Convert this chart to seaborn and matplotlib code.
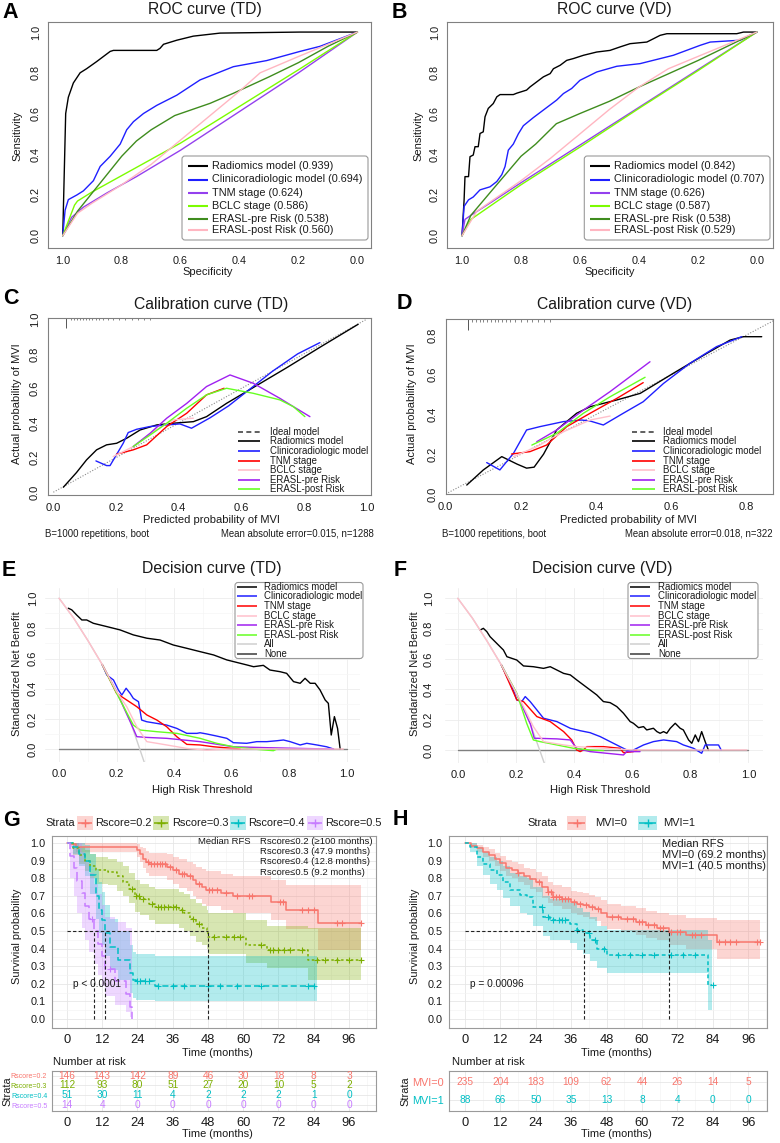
import numpy as np
import matplotlib
matplotlib.use("Agg")
import matplotlib.pyplot as plt
import seaborn as sns
from matplotlib.patches import Rectangle, FancyBboxPatch

sns.set_style("white")
plt.rcParams['font.family'] = ['Liberation Sans', 'DejaVu Sans']
plt.rcParams['axes.unicode_minus'] = False

# ------------------------------------------------------------------ DATA
model_names = ["Radiomics model", "Clinicoradiologic model", "TNM stage", "BCLC stage",
               "ERASL-pre Risk", "ERASL-post Risk"]
auc_td = [0.939, 0.694, 0.624, 0.586, 0.538, 0.560]
auc_vd = [0.842, 0.707, 0.626, 0.587, 0.538, 0.529]

# ROC, training dataset (specificity, sensitivity)
roc_td_rad_spec = [1.0, 0.99, 0.981, 0.964, 0.941, 0.919, 0.885, 0.862, 0.839, 0.828, 0.681, 0.67, 0.658, 0.613, 0.557, 0.466, 0.195, 0.0]
roc_td_rad_sens = [0.0, 0.60, 0.68, 0.75, 0.80, 0.82, 0.855, 0.88, 0.905, 0.91, 0.91, 0.92, 0.94, 0.96, 0.98, 0.995, 1.0, 1.0]
roc_td_cli_spec = [1.0, 0.992, 0.981, 0.952, 0.93, 0.896, 0.873, 0.839, 0.805, 0.783, 0.76, 0.726, 0.681, 0.613, 0.534, 0.421, 0.308, 0.195, 0.127, 0.0]
roc_td_cli_sens = [0.0, 0.125, 0.177, 0.2, 0.22, 0.27, 0.34, 0.39, 0.45, 0.52, 0.56, 0.6, 0.64, 0.69, 0.765, 0.83, 0.86, 0.905, 0.93, 1.0]
roc_td_tnm_spec = [1.0, 0.97, 0.93, 0.85, 0.75, 0.6, 0.4, 0.2, 0.0]
roc_td_tnm_sens = [0.0, 0.09, 0.14, 0.21, 0.29, 0.42, 0.61, 0.80, 1.0]
roc_td_bclc_spec = [1.0, 0.96, 0.95, 0.9, 0.8, 0.6, 0.4, 0.2, 0.0]
roc_td_bclc_sens = [0.0, 0.15, 0.17, 0.215, 0.295, 0.455, 0.635, 0.815, 1.0]
roc_td_pre_spec = [1.0, 0.95, 0.9, 0.85, 0.8, 0.75, 0.7, 0.62, 0.5, 0.42, 0.3, 0.2, 0.1, 0.0]
roc_td_pre_sens = [0.0, 0.12, 0.21, 0.30, 0.39, 0.465, 0.52, 0.59, 0.65, 0.70, 0.78, 0.85, 0.93, 1.0]
roc_td_post_spec = [1.0, 0.95, 0.9, 0.8, 0.7, 0.6, 0.5, 0.4, 0.33, 0.2, 0.1, 0.0]
roc_td_post_sens = [0.0, 0.11, 0.16, 0.25, 0.35, 0.47, 0.59, 0.71, 0.80, 0.88, 0.94, 1.0]

# ROC, validation dataset
roc_vd_rad_spec = [1.0, 0.993, 0.99, 0.978, 0.973, 0.962, 0.956, 0.945, 0.939, 0.928, 0.922, 0.911, 0.894, 0.882, 0.871, 0.826, 0.814, 0.781, 0.769, 0.747, 0.724, 0.701, 0.69, 0.667, 0.645, 0.622, 0.588, 0.543, 0.498, 0.464, 0.43, 0.373, 0.351, 0.328, 0.305, 0.068, 0.045, 0.0]
roc_vd_rad_sens = [0.0, 0.176, 0.29, 0.29, 0.388, 0.396, 0.437, 0.437, 0.502, 0.51, 0.584, 0.625, 0.649, 0.682, 0.693, 0.693, 0.70, 0.715, 0.731, 0.755, 0.78, 0.796, 0.82, 0.837, 0.861, 0.87, 0.886, 0.902, 0.91, 0.927, 0.943, 0.951, 0.967, 0.984, 0.992, 0.992, 1.0, 1.0]
roc_vd_cli_spec = [1.0, 0.993, 0.978, 0.962, 0.939, 0.905, 0.882, 0.865, 0.854, 0.843, 0.826, 0.809, 0.792, 0.758, 0.724, 0.679, 0.656, 0.628, 0.6, 0.543, 0.475, 0.396, 0.283, 0.192, 0.158, 0.057, 0.0]
roc_vd_cli_sens = [0.0, 0.144, 0.176, 0.19, 0.225, 0.24, 0.266, 0.30, 0.34, 0.42, 0.45, 0.50, 0.54, 0.58, 0.617, 0.666, 0.698, 0.723, 0.763, 0.804, 0.832, 0.845, 0.886, 0.935, 0.951, 0.96, 1.0]
roc_vd_tnm_spec = [1.0, 0.99, 0.97, 0.9, 0.8, 0.6, 0.4, 0.2, 0.0]
roc_vd_tnm_sens = [0.0, 0.08, 0.10, 0.165, 0.26, 0.445, 0.63, 0.815, 1.0]
roc_vd_bclc_spec = [1.0, 0.97, 0.93, 0.9, 0.8, 0.6, 0.4, 0.2, 0.0]
roc_vd_bclc_sens = [0.0, 0.08, 0.12, 0.15, 0.25, 0.435, 0.625, 0.81, 1.0]
roc_vd_pre_spec = [1.0, 0.97, 0.9, 0.8, 0.75, 0.68, 0.6, 0.5, 0.4, 0.2, 0.0]
roc_vd_pre_sens = [0.0, 0.10, 0.22, 0.39, 0.45, 0.55, 0.60, 0.66, 0.73, 0.86, 1.0]
roc_vd_post_spec = [1.0, 0.95, 0.9, 0.8, 0.7, 0.6, 0.5, 0.4, 0.3, 0.2, 0.0]
roc_vd_post_sens = [0.0, 0.12, 0.17, 0.27, 0.38, 0.50, 0.62, 0.73, 0.82, 0.88, 1.0]

# Calibration, training dataset (predicted, actual)
cal_td_rad_x = [0.032, 0.074, 0.106, 0.138, 0.17, 0.202, 0.234, 0.277, 0.33, 0.383, 0.447, 0.489, 0.553, 0.638, 0.745, 0.851, 0.973]
cal_td_rad_y = [0.029, 0.114, 0.187, 0.245, 0.274, 0.283, 0.312, 0.36, 0.389, 0.399, 0.408, 0.437, 0.514, 0.605, 0.72, 0.838, 0.971]
cal_td_cli_x = [0.136, 0.17, 0.181, 0.223, 0.239, 0.266, 0.309, 0.362, 0.404, 0.441, 0.50, 0.56, 0.63, 0.70, 0.78, 0.851]
cal_td_cli_y = [0.181, 0.154, 0.154, 0.283, 0.345, 0.364, 0.38, 0.389, 0.395, 0.37, 0.43, 0.50, 0.60, 0.70, 0.80, 0.865]
cal_td_tnm_x = [0.202, 0.255, 0.298, 0.362, 0.426, 0.489, 0.545]
cal_td_tnm_y = [0.22, 0.245, 0.274, 0.38, 0.457, 0.563, 0.601]
cal_td_bclc_x = [0.191, 0.255, 0.319, 0.383, 0.447]
cal_td_bclc_y = [0.206, 0.264, 0.351, 0.418, 0.428]
cal_td_pre_x = [0.255, 0.309, 0.362, 0.426, 0.489, 0.564, 0.638, 0.723, 0.766, 0.819]
cal_td_pre_y = [0.264, 0.341, 0.428, 0.514, 0.611, 0.678, 0.63, 0.543, 0.495, 0.437]
cal_td_post_x = [0.255, 0.309, 0.362, 0.426, 0.489, 0.553, 0.638, 0.723, 0.766, 0.803]
cal_td_post_y = [0.264, 0.331, 0.399, 0.486, 0.563, 0.601, 0.572, 0.534, 0.495, 0.437]
cal_td_rug = [0.04, 0.055, 0.065, 0.075, 0.085, 0.095, 0.105, 0.115, 0.125, 0.135, 0.145, 0.16, 0.175, 0.19, 0.21, 0.23, 0.25, 0.27, 0.29, 0.31]

# Calibration, validation dataset
cal_vd_rad_x = [0.056, 0.100, 0.149, 0.19, 0.215, 0.235, 0.26, 0.295, 0.348, 0.384, 0.455, 0.517, 0.605, 0.694, 0.756, 0.791, 0.840]
cal_vd_rad_y = [0.045, 0.121, 0.188, 0.15, 0.13, 0.135, 0.20, 0.322, 0.406, 0.439, 0.473, 0.506, 0.607, 0.707, 0.774, 0.791, 0.791]
cal_vd_cli_x = [0.109, 0.144, 0.180, 0.215, 0.251, 0.313, 0.361, 0.384, 0.419, 0.472, 0.525, 0.579, 0.649, 0.720, 0.787]
cal_vd_cli_y = [0.158, 0.121, 0.204, 0.322, 0.339, 0.364, 0.372, 0.367, 0.347, 0.406, 0.464, 0.556, 0.657, 0.741, 0.791]
cal_vd_tnm_x = [0.175, 0.224, 0.268, 0.322, 0.384, 0.455, 0.525]
cal_vd_tnm_y = [0.201, 0.213, 0.246, 0.339, 0.406, 0.481, 0.560]
cal_vd_bclc_x = [0.180, 0.242, 0.313, 0.384, 0.437]
cal_vd_bclc_y = [0.188, 0.238, 0.313, 0.372, 0.392]
cal_vd_pre_x = [0.242, 0.295, 0.366, 0.437, 0.490, 0.543]
cal_vd_pre_y = [0.263, 0.322, 0.422, 0.515, 0.590, 0.665]
cal_vd_post_x = [0.229, 0.295, 0.366, 0.437, 0.530]
cal_vd_post_y = [0.246, 0.305, 0.406, 0.489, 0.587]
cal_vd_rug = [0.06, 0.07, 0.08, 0.09, 0.10, 0.11, 0.12, 0.13, 0.14, 0.15, 0.16, 0.17, 0.185, 0.2, 0.215, 0.23, 0.245, 0.26, 0.277]

# Decision curves, training dataset (threshold, standardized net benefit)
dca_td_all_x = [0.0, 0.05, 0.1, 0.15, 0.2, 0.25, 0.3]
dca_td_all_y = [1.0, 0.87, 0.72, 0.56, 0.38, 0.17, -0.11]
dca_td_rad_x = [0.032, 0.044, 0.061, 0.079, 0.096, 0.119, 0.166, 0.212, 0.258, 0.305, 0.351, 0.397, 0.444, 0.49, 0.537, 0.583, 0.606, 0.652, 0.676, 0.71, 0.733, 0.768, 0.791, 0.815, 0.838, 0.855, 0.873, 0.89, 0.907, 0.925, 0.936, 0.946, 0.957, 0.968, 0.977]
dca_td_rad_y = [0.934, 0.923, 0.889, 0.856, 0.856, 0.834, 0.812, 0.79, 0.757, 0.735, 0.723, 0.69, 0.668, 0.646, 0.624, 0.591, 0.58, 0.558, 0.546, 0.555, 0.524, 0.513, 0.502, 0.447, 0.436, 0.469, 0.436, 0.436, 0.392, 0.325, 0.303, 0.093, 0.215, 0.137, 0.0]
dca_td_cli_x = [0.15, 0.166, 0.189, 0.206, 0.218, 0.233, 0.247, 0.258, 0.276, 0.287, 0.305, 0.34, 0.374, 0.409, 0.444, 0.479, 0.49, 0.513, 0.548, 0.583, 0.606, 0.652, 0.687, 0.722, 0.757, 0.78, 0.803, 0.838, 0.861, 0.896, 0.93, 0.954]
dca_td_cli_y = [0.56, 0.491, 0.458, 0.392, 0.358, 0.403, 0.369, 0.336, 0.314, 0.192, 0.181, 0.17, 0.159, 0.137, 0.104, 0.104, 0.108, 0.1, 0.086, 0.071, 0.042, 0.038, 0.049, 0.049, 0.055, 0.06, 0.049, 0.027, 0.038, 0.027, 0.015, 0.0]
dca_td_tnm_x = [0.15, 0.2, 0.235, 0.27, 0.305, 0.34, 0.374, 0.409, 0.444, 0.49, 0.537, 0.606, 0.63]
dca_td_tnm_y = [0.56, 0.369, 0.325, 0.281, 0.226, 0.192, 0.148, 0.082, 0.031, 0.027, 0.015, 0.004, 0.0]
dca_td_bclc_x = [0.0, 0.05, 0.1, 0.15, 0.2, 0.235, 0.27, 0.305, 0.34, 0.374, 0.444, 0.513, 0.6, 0.988]
dca_td_bclc_y = [1.0, 0.87, 0.72, 0.56, 0.38, 0.281, 0.148, 0.049, 0.038, 0.027, 0.004, -0.007, 0.0, 0.0]
dca_td_pre_x = [0.15, 0.2, 0.25, 0.27, 0.305, 0.374, 0.49, 0.606, 0.722, 0.838, 0.954]
dca_td_pre_y = [0.56, 0.38, 0.17, 0.082, 0.077, 0.071, 0.049, 0.015, 0.009, 0.004, 0.0]
dca_td_post_x = [0.15, 0.2, 0.258, 0.282, 0.34, 0.409, 0.49, 0.548, 0.606, 0.676, 0.745, 0.757]
dca_td_post_y = [0.56, 0.37, 0.159, 0.126, 0.115, 0.104, 0.071, 0.038, 0.015, 0.0, -0.011, 0.0]

# Decision curves, validation dataset
dca_vd_all_x = [0.0, 0.05, 0.1, 0.15, 0.2, 0.25, 0.3]
dca_vd_all_y = [1.0, 0.87, 0.72, 0.56, 0.38, 0.17, -0.10]
dca_vd_rad_x = [0.077, 0.088, 0.1, 0.111, 0.134, 0.157, 0.169, 0.186, 0.203, 0.226, 0.26, 0.295, 0.318, 0.341, 0.364, 0.387, 0.409, 0.432, 0.455, 0.478, 0.501, 0.524, 0.547, 0.57, 0.593, 0.604, 0.622, 0.639, 0.65, 0.673, 0.685, 0.696, 0.708, 0.719, 0.731, 0.748, 0.765, 0.776, 0.794, 0.805, 0.817, 0.828, 0.839, 0.851, 0.862]
dca_vd_rad_y = [0.791, 0.802, 0.78, 0.747, 0.703, 0.659, 0.615, 0.604, 0.593, 0.554, 0.549, 0.538, 0.549, 0.527, 0.505, 0.495, 0.462, 0.429, 0.396, 0.363, 0.319, 0.312, 0.286, 0.242, 0.187, 0.176, 0.147, 0.154, 0.132, 0.143, 0.121, 0.11, 0.121, 0.11, 0.143, 0.176, 0.143, 0.132, 0.066, 0.044, 0.099, 0.055, 0.121, 0.055, 0.0]
dca_vd_cli_x = [0.15, 0.186, 0.203, 0.22, 0.232, 0.249, 0.272, 0.295, 0.318, 0.341, 0.364, 0.387, 0.421, 0.455, 0.49, 0.524, 0.558, 0.593, 0.616, 0.639, 0.673, 0.708, 0.753, 0.776, 0.811, 0.839, 0.851, 0.897, 0.906]
dca_vd_cli_y = [0.56, 0.42, 0.33, 0.319, 0.352, 0.319, 0.264, 0.209, 0.198, 0.187, 0.165, 0.143, 0.127, 0.114, 0.088, 0.055, 0.022, -0.011, 0.011, 0.033, 0.055, 0.066, 0.055, 0.033, 0.011, -0.022, 0.033, 0.033, 0.0]
dca_vd_tnm_x = [0.15, 0.203, 0.226, 0.272, 0.318, 0.364, 0.392, 0.409, 0.421, 0.432, 0.444, 0.501, 0.558, 0.57, 0.604, 0.616]
dca_vd_tnm_y = [0.56, 0.33, 0.319, 0.22, 0.187, 0.121, 0.066, 0.0, -0.011, 0.0, 0.022, 0.022, 0.011, -0.018, -0.011, 0.0]
dca_vd_bclc_x = [0.0, 0.05, 0.1, 0.15, 0.2, 0.226, 0.26, 0.295, 0.364, 0.409, 0.6, 0.994]
dca_vd_bclc_y = [1.0, 0.87, 0.72, 0.56, 0.38, 0.286, 0.154, 0.055, 0.033, 0.022, 0.0, 0.0]
dca_vd_pre_x = [0.15, 0.2, 0.25, 0.263, 0.272, 0.341, 0.387, 0.409, 0.455, 0.513, 0.57, 0.581, 0.627]
dca_vd_pre_y = [0.56, 0.38, 0.17, 0.077, 0.077, 0.073, 0.066, 0.011, -0.011, -0.022, -0.033, -0.011, -0.011]
dca_vd_post_x = [0.15, 0.203, 0.237, 0.26, 0.283, 0.341, 0.398, 0.455, 0.501]
dca_vd_post_y = [0.56, 0.374, 0.176, 0.066, 0.055, 0.033, 0.011, 0.0, -0.004]

# Kaplan-Meier G (Rscore strata)
km_g_labels = ["Rscore=0.2", "Rscore=0.3", "Rscore=0.4", "Rscore=0.5"]
km_g_t02 = [0, 1.5, 3, 24, 25, 26, 27, 28, 34, 36, 38, 41, 43, 44, 46, 47.4, 52.5, 56.5, 69.5, 74.5, 85.5, 100.2]
km_g_s02 = [1.0, 0.993, 0.977, 0.96, 0.935, 0.91, 0.892, 0.879, 0.862, 0.845, 0.826, 0.81, 0.788, 0.77, 0.75, 0.735, 0.716, 0.70, 0.665, 0.622, 0.543, 0.543]
km_g_lo02 = [1.0, 0.98, 0.95, 0.92, 0.89, 0.86, 0.83, 0.81, 0.79, 0.77, 0.745, 0.725, 0.70, 0.68, 0.655, 0.64, 0.62, 0.60, 0.56, 0.51, 0.39, 0.39]
km_g_hi02 = [1.0, 1.0, 1.0, 0.995, 0.98, 0.97, 0.955, 0.945, 0.935, 0.92, 0.91, 0.895, 0.88, 0.865, 0.85, 0.84, 0.825, 0.815, 0.79, 0.76, 0.76, 0.76]
km_g_t03 = [0, 2, 4, 6, 8, 10, 14, 17, 19, 21, 23, 25, 28, 30, 38, 40, 42, 44, 46, 47.5, 48, 61, 68, 82, 100.2]
km_g_s03 = [1.0, 0.97, 0.93, 0.90, 0.87, 0.845, 0.835, 0.81, 0.78, 0.74, 0.70, 0.68, 0.655, 0.635, 0.62, 0.60, 0.57, 0.54, 0.52, 0.505, 0.467, 0.42, 0.39, 0.335, 0.335]
km_g_lo03 = [1.0, 0.93, 0.88, 0.84, 0.80, 0.77, 0.76, 0.73, 0.70, 0.66, 0.61, 0.59, 0.56, 0.54, 0.52, 0.50, 0.47, 0.44, 0.42, 0.40, 0.37, 0.32, 0.29, 0.22, 0.22]
km_g_hi03 = [1.0, 1.0, 0.98, 0.96, 0.94, 0.92, 0.91, 0.89, 0.87, 0.83, 0.79, 0.77, 0.75, 0.74, 0.72, 0.71, 0.68, 0.66, 0.64, 0.62, 0.60, 0.56, 0.53, 0.52, 0.52]
km_g_t04 = [0, 2, 4, 6, 8, 10, 11, 12, 12.8, 14.5, 17.4, 21.5, 22.5, 23.5, 30, 85]
km_g_s04 = [1.0, 0.98, 0.94, 0.90, 0.82, 0.70, 0.62, 0.56, 0.49, 0.41, 0.338, 0.26, 0.22, 0.217, 0.187, 0.187]
km_g_lo04 = [1.0, 0.94, 0.87, 0.81, 0.71, 0.57, 0.49, 0.42, 0.36, 0.28, 0.22, 0.15, 0.12, 0.11, 0.10, 0.10]
km_g_hi04 = [1.0, 1.0, 1.0, 0.99, 0.94, 0.85, 0.78, 0.72, 0.65, 0.57, 0.50, 0.42, 0.38, 0.37, 0.36, 0.36]
km_g_t05 = [0, 1, 2.5, 3.5, 5, 6, 7.5, 9.2, 10.5, 12, 13, 16.5, 20, 21.5, 22.3]
km_g_s05 = [1.0, 0.929, 0.857, 0.786, 0.714, 0.643, 0.571, 0.5, 0.429, 0.357, 0.286, 0.214, 0.143, 0.071, 0.0]
km_g_lo05 = [1.0, 0.80, 0.70, 0.60, 0.52, 0.45, 0.38, 0.31, 0.25, 0.19, 0.13, 0.08, 0.04, 0.01, 0.0]
km_g_hi05 = [1.0, 1.0, 1.0, 1.0, 0.95, 0.90, 0.83, 0.77, 0.71, 0.65, 0.58, 0.55, 0.52, 0.52, 0.52]
km_g_cens02 = [27.5, 28.5, 29.5, 30.5, 31.5, 32.5, 33.5, 35, 37, 39, 40, 42, 45, 48.5, 49.5, 51, 54, 58, 62, 63, 72.5, 73.5, 80, 82, 84, 92, 93.5, 100]
km_g_cens03 = [22, 23.5, 24.5, 26, 29, 31, 32, 33, 34.5, 36, 37, 39, 43, 45, 50, 54, 57, 59, 66, 69, 70, 72, 74, 76, 80, 85, 88, 92, 96, 100]
km_g_cens04 = [24, 25, 26.5, 28, 31, 36, 40, 48, 52, 58, 66, 82, 84]
km_g_cens05 = [8.5, 14.5]
km_g_medians = [9.2, 12.8, 47.9]

# Kaplan-Meier H (MVI strata)
km_h_labels = ["MVI=0", "MVI=1"]
km_h_t0 = [0, 2, 4, 6, 8, 10, 12, 14, 16, 18, 20, 22, 24, 26, 28, 30, 33, 36, 38, 40, 42, 44, 46, 48, 53, 58, 61.5, 65, 69.2, 75, 85.5, 100]
km_h_s0 = [1.0, 0.985, 0.97, 0.95, 0.93, 0.91, 0.885, 0.86, 0.845, 0.83, 0.81, 0.795, 0.78, 0.75, 0.72, 0.695, 0.684, 0.665, 0.655, 0.646, 0.636, 0.625, 0.60, 0.58, 0.571, 0.552, 0.533, 0.517, 0.495, 0.476, 0.439, 0.439]
km_h_lo0 = [1.0, 0.97, 0.95, 0.92, 0.90, 0.87, 0.84, 0.815, 0.80, 0.78, 0.76, 0.74, 0.72, 0.69, 0.66, 0.64, 0.625, 0.60, 0.59, 0.58, 0.57, 0.555, 0.53, 0.51, 0.50, 0.48, 0.46, 0.45, 0.42, 0.40, 0.34, 0.34]
km_h_hi0 = [1.0, 1.0, 0.99, 0.98, 0.965, 0.945, 0.925, 0.905, 0.89, 0.88, 0.86, 0.85, 0.835, 0.81, 0.78, 0.76, 0.75, 0.73, 0.72, 0.715, 0.705, 0.695, 0.675, 0.655, 0.645, 0.63, 0.615, 0.605, 0.59, 0.575, 0.56, 0.56]
km_h_t1 = [0, 1.7, 4, 6.2, 8.5, 10.7, 13, 15.2, 18.6, 20.9, 23.2, 26.5, 28.8, 35.6, 37.9, 40.1, 42.4, 44.6, 48, 82.4, 83.6]
km_h_s1 = [1.0, 0.977, 0.92, 0.882, 0.845, 0.817, 0.779, 0.732, 0.703, 0.694, 0.637, 0.58, 0.561, 0.539, 0.508, 0.486, 0.448, 0.40, 0.363, 0.193, 0.193]
km_h_lo1 = [1.0, 0.95, 0.87, 0.82, 0.77, 0.735, 0.69, 0.64, 0.60, 0.59, 0.53, 0.47, 0.45, 0.43, 0.39, 0.37, 0.33, 0.29, 0.26, 0.05, 0.05]
km_h_hi1 = [1.0, 1.0, 0.975, 0.95, 0.92, 0.90, 0.87, 0.83, 0.81, 0.80, 0.75, 0.70, 0.68, 0.66, 0.63, 0.61, 0.58, 0.53, 0.505, 0.45, 0.45]
km_h_cens0 = [18, 25, 28, 29, 30, 31, 32, 33, 34, 35, 37, 39, 41, 43, 45, 50, 52, 55, 57, 59, 60, 62, 64, 66, 67, 70, 72, 73, 77, 78, 80, 86, 88, 90, 92, 99, 100]
km_h_cens1 = [26, 28, 30, 32, 33, 34, 38, 42, 44, 47, 52, 56, 60, 64, 70, 74, 78, 84]
km_h_medians = [40.5, 69.2]

# Number at risk
risk_times = [0, 12, 24, 36, 48, 60, 72, 84, 96]
risk_g = [[146, 143, 142, 89, 46, 30, 18, 8, 3],
          [112, 93, 80, 51, 27, 20, 10, 5, 2],
          [51, 30, 11, 4, 2, 2, 2, 1, 0],
          [14, 4, 0, 0, 0, 0, 0, 0, 0]]
risk_h = [[235, 204, 183, 109, 62, 44, 26, 14, 5],
          [88, 66, 50, 35, 13, 8, 4, 0, 0]]

# ------------------------------------------------------------------ STYLE
W, H = 780, 1143
fig = plt.figure(figsize=(W / 100, H / 100), dpi=100)
fig.patch.set_facecolor('white')

roc_cols = ['#000000', '#1f1fff', '#9440ee', '#7CFC00', '#3f8c1e', '#FFB6C1']
cal_cols = ['#000000', '#1f1fff', '#FF0000', '#FFC0CB', '#A020F0', '#66FF22']
km_g_cols = ['#F8766D', '#7CAE00', '#00BFC4', '#C77CFF']
km_h_cols = ['#F8766D', '#00BFC4']
km_g_ls = ['-', (0, (1.6, 1.6)), (0, (4, 2)), (0, (6, 2.5))]
km_h_ls = ['-', (0, (2.5, 1.8))]
TXT = '#1a1a1a'

def add_ax(box, **kw):
    x0, y0, x1, y1 = box
    return fig.add_axes([x0 / W, 1 - y1 / H, (x1 - x0) / W, (y1 - y0) / H], **kw)

def frac(box, px, py):
    x0, y0, x1, y1 = box
    return (px - x0) / (x1 - x0), (y1 - py) / (y1 - y0)

def set_labels(ax, box, title=None, tpos=None, xlabel=None, xpos=None, ylabel=None, ypos=None,
               tfs=11.3, lfs=8):
    if title:
        fx, fy = frac(box, *tpos)
        ax.set_title(title, fontsize=tfs, va='center', color=TXT, pad=0, x=fx, y=fy)
    if xlabel:
        ax.set_xlabel(xlabel, fontsize=lfs, va='center', color=TXT)
        ax.xaxis.set_label_coords(*frac(box, *xpos))
    if ylabel:
        ax.set_ylabel(ylabel, fontsize=lfs, va='center', color=TXT)
        ax.yaxis.set_label_coords(*frac(box, *ypos))

def rot_y(ax):
    for lab in ax.get_yticklabels():
        lab.set_rotation(90)
        lab.set_va('center')

def rbase(ax, fs=7.8):
    for s in ax.spines.values():
        s.set_color('#808080'); s.set_linewidth(0.8); s.set_visible(True)
    ax.tick_params(direction='out', length=4, width=0.7, color='#808080',
                   labelsize=fs, labelcolor=TXT, pad=1.5)
    ax.set_facecolor('white')

def ftext(px, py, s, **kw):
    kw.setdefault('color', TXT)
    return fig.text(px / W, 1 - py / H, s, **kw)

ov = add_ax((0, 0, W, H), zorder=30)
ov.set_xlim(0, W); ov.set_ylim(H, 0); ov.set_axis_off()

def manual_legend(boxr, xl0, xl1, xt, ys, labels, colors, styles, lw, fs):
    if boxr is not None:
        bx0, by0, bx1, by1 = boxr
        ov.add_patch(FancyBboxPatch((bx0, by0), bx1 - bx0, by1 - by0,
                                    boxstyle='round,pad=0,rounding_size=3',
                                    fc='white', ec='#9a9a9a', lw=0.8))
    for y, lab, c, ls in zip(ys, labels, colors, styles):
        ov.plot([xl0, xl1], [y, y], color=c, ls=ls, lw=lw, solid_capstyle='butt')
        ov.text(xt, y, lab, fontsize=fs, va='center', ha='left', color=TXT)

# ------------------------------------------------------------------ ROC
def roc_panel(box, curves, xlim, title, tpos, xpos, ypos):
    ax = add_ax(box)
    for (spec, sens), col in zip(curves, roc_cols):
        sns.lineplot(x=spec, y=sens, ax=ax, color=col, lw=1.0, sort=False, estimator=None)
    ax.set_xlim(*xlim); ax.set_ylim(-0.062, 1.048)
    ticks = [1.0, 0.8, 0.6, 0.4, 0.2, 0.0]
    ax.set_xticks(ticks, [f'{t:.1f}' for t in ticks])
    ax.set_yticks(ticks[::-1], [f'{t:.1f}' for t in ticks[::-1]])
    rbase(ax); rot_y(ax)
    set_labels(ax, box, title, tpos, 'Specificity', xpos, 'Sensitivity', ypos)
    return ax

roc_td = [(roc_td_rad_spec, roc_td_rad_sens), (roc_td_cli_spec, roc_td_cli_sens),
          (roc_td_tnm_spec, roc_td_tnm_sens), (roc_td_bclc_spec, roc_td_bclc_sens),
          (roc_td_pre_spec, roc_td_pre_sens), (roc_td_post_spec, roc_td_post_sens)]
roc_vd = [(roc_vd_rad_spec, roc_vd_rad_sens), (roc_vd_cli_spec, roc_vd_cli_sens),
          (roc_vd_tnm_spec, roc_vd_tnm_sens), (roc_vd_bclc_spec, roc_vd_bclc_sens),
          (roc_vd_pre_spec, roc_vd_pre_sens), (roc_vd_post_spec, roc_vd_post_sens)]
boxA = (48.3, 22.3, 371, 248.3)
boxB = (447.3, 22.3, 772.7, 248.3)
roc_panel(boxA, roc_td, (1.049, -0.046), 'ROC curve (TD)', (205, 9.5), (208, 271.7), (17.3, 136))
roc_panel(boxB, roc_vd, (1.05, -0.054), 'ROC curve (VD)', (614, 9.5), (610, 271.7), (418.3, 136))
roc_ys = [166, 179.5, 192.7, 206, 218.5, 230]
manual_legend((182, 156, 368, 240), 188, 208, 212, roc_ys,
              [f'{n} ({a:.3f})' for n, a in zip(model_names, auc_td)], roc_cols, ['-'] * 6, 1.5, 7.8)
manual_legend((584.3, 156, 770, 240), 590, 610, 614, roc_ys,
              [f'{n} ({a:.3f})' for n, a in zip(model_names, auc_vd)], roc_cols, ['-'] * 6, 1.5, 7.8)

# ------------------------------------------------------------------ Calibration
def cal_panel(box, curves, rug, xlim, ylim, ticks, title, tpos, xpos, ypos):
    ax = add_ax(box)
    sns.lineplot(x=[0, 1], y=[0, 1], ax=ax, color='#8a8a8a', lw=0.8, ls=(0, (1, 1.5)),
                 sort=False, estimator=None)
    for (x, y), col in zip(curves, cal_cols):
        sns.lineplot(x=x, y=y, ax=ax, color=col, lw=1.0, sort=False, estimator=None)
    tr = ax.get_xaxis_transform()
    ax.vlines(rug[0], 0.94, 1.0, transform=tr, color='#555555', lw=0.7)
    ax.vlines(rug[1:], 0.985, 1.0, transform=tr, color='#555555', lw=0.5)
    ax.set_xlim(*xlim); ax.set_ylim(*ylim)
    ax.set_xticks(ticks, [f'{t:.1f}' for t in ticks])
    ax.set_yticks(ticks, [f'{t:.1f}' for t in ticks])
    rbase(ax, fs=8); rot_y(ax)
    set_labels(ax, box, title, tpos, 'Predicted probability of MVI', xpos,
               'Actual probability of MVI', ypos)
    return ax

cal_td = [(cal_td_rad_x, cal_td_rad_y), (cal_td_cli_x, cal_td_cli_y), (cal_td_tnm_x, cal_td_tnm_y),
          (cal_td_bclc_x, cal_td_bclc_y), (cal_td_pre_x, cal_td_pre_y), (cal_td_post_x, cal_td_post_y)]
cal_vd = [(cal_vd_rad_x, cal_vd_rad_y), (cal_vd_cli_x, cal_vd_cli_y), (cal_vd_tnm_x, cal_vd_tnm_y),
          (cal_vd_bclc_x, cal_vd_bclc_y), (cal_vd_pre_x, cal_vd_pre_y), (cal_vd_post_x, cal_vd_post_y)]
boxC = (47.7, 317.7, 371, 495)
boxD = (445.7, 319, 773, 494)
cal_panel(boxC, cal_td, cal_td_rug, (-0.018, 1.014), (-0.016, 1.009), [0, 0.2, 0.4, 0.6, 0.8, 1.0],
          'Calibration curve (TD)', (211, 304), (211, 520), (17.3, 404))
cal_panel(boxD, cal_vd, cal_vd_rug, (0, 0.87), (0, 0.88), [0, 0.2, 0.4, 0.6, 0.8],
          'Calibration curve (VD)', (615, 304), (628, 520), (411.7, 404))
cal_labels = ['Ideal model'] + model_names
cal_lcols = ['#444444'] + cal_cols
cal_ls = [(0, (3, 2))] + ['-'] * 6
cal_ys = [431.7, 441.3, 451, 460.6, 470.2, 479.6, 489.2]
manual_legend(None, 238, 260, 270, cal_ys, cal_labels, cal_lcols, cal_ls, 1.2, 6.9)
manual_legend(None, 632, 655, 663, cal_ys, cal_labels, cal_lcols, cal_ls, 1.2, 6.9)
ftext(45, 534, 'B=1000 repetitions, boot', fontsize=6.9, va='center', ha='left')
ftext(374, 534, 'Mean absolute error=0.015, n=1288', fontsize=6.9, va='center', ha='right')
ftext(441.7, 534, 'B=1000 repetitions, boot', fontsize=6.9, va='center', ha='left')
ftext(773, 534, 'Mean absolute error=0.018, n=322', fontsize=6.9, va='center', ha='right')

# ------------------------------------------------------------------ Decision curves
def dca_panel(box, all_xy, curves, xlim, ylim, title, tpos, xpos, ypos, ypad):
    ax = add_ax(box)
    ax.set_xticks([0.1, 0.3, 0.5, 0.7, 0.9], minor=True)
    ax.set_yticks([0.1, 0.3, 0.5, 0.7, 0.9], minor=True)
    ax.grid(True, which='major', color='#ececec', lw=0.6)
    ax.grid(True, which='minor', color='#f5f5f5', lw=0.5)
    ax.set_axisbelow(True)
    sns.lineplot(x=[0, 1], y=[0, 0], ax=ax, color='#7f7f7f', lw=1.0, sort=False, estimator=None)
    sns.lineplot(x=all_xy[0], y=all_xy[1], ax=ax, color='#cfcfcf', lw=1.0, sort=False, estimator=None)
    order = [0, 1, 2, 4, 5, 3]
    for i in order:
        x, y = curves[i]
        sns.lineplot(x=x, y=y, ax=ax, color=cal_cols[i], lw=1.0, sort=False, estimator=None)
    ax.set_xlim(*xlim); ax.set_ylim(*ylim)
    ticks = [0, 0.2, 0.4, 0.6, 0.8, 1.0]
    ax.set_xticks(ticks, [f'{t:.1f}' for t in ticks])
    ax.set_yticks(ticks, [f'{t:.1f}' for t in ticks])
    for s in ax.spines.values():
        s.set_visible(False)
    ax.tick_params(which='both', length=0, labelsize=8, labelcolor=TXT)
    ax.tick_params(axis='x', pad=5)
    ax.tick_params(axis='y', pad=ypad)
    rot_y(ax)
    set_labels(ax, box, title, tpos, 'High Risk Threshold', xpos, 'Standardized Net Benefit', ypos)
    return ax

dca_td = [(dca_td_rad_x, dca_td_rad_y), (dca_td_cli_x, dca_td_cli_y), (dca_td_tnm_x, dca_td_tnm_y),
          (dca_td_bclc_x, dca_td_bclc_y), (dca_td_pre_x, dca_td_pre_y), (dca_td_post_x, dca_td_post_y)]
dca_vd = [(dca_vd_rad_x, dca_vd_rad_y), (dca_vd_cli_x, dca_vd_cli_y), (dca_vd_tnm_x, dca_vd_tnm_y),
          (dca_vd_bclc_x, dca_vd_bclc_y), (dca_vd_pre_x, dca_vd_pre_y), (dca_vd_post_x, dca_vd_post_y)]
boxE = (45, 588, 360, 761.7)
boxF = (445, 588, 763, 763.3)
dca_panel(boxE, (dca_td_all_x, dca_td_all_y), dca_td, (-0.049, 1.046), (-0.084, 1.068),
          'Decision curve (TD)', (211.7, 568.3), (201.7, 790), (16.7, 673.3), 5)
dca_panel(boxF, (dca_vd_all_x, dca_vd_all_y), dca_vd, (-0.044, 1.05), (-0.088, 1.068),
          'Decision curve (VD)', (601.7, 568.3), (600, 790), (415, 673.3), 8)
dca_labels = model_names + ['All', 'None']
dca_lcols = cal_cols + ['#cfcfcf', '#3a3a3a']
dca_ys = [586.7, 596.4, 606, 615.6, 625.2, 634.7, 644.3, 653.7]
manual_legend((235, 582.5, 363, 658.5), 237, 257, 264, dca_ys, dca_labels, dca_lcols, ['-'] * 8, 1.1, 6.9)
manual_legend((628, 582.5, 758, 658.5), 630, 650, 658, dca_ys, dca_labels, dca_lcols, ['-'] * 8, 1.1, 6.9)

# ------------------------------------------------------------------ Kaplan-Meier
def step_at(t, s, q):
    t = np.asarray(t); s = np.asarray(s)
    idx = np.searchsorted(t, q, side='right') - 1
    return s[np.clip(idx, 0, len(s) - 1)]

def km_grid(ax, xlim, ylim):
    ax.set_xlim(*xlim); ax.set_ylim(*ylim)
    ax.set_xticks(risk_times, [str(t) for t in risk_times])
    ax.set_xticks([6, 18, 30, 42, 54, 66, 78, 90, 102], minor=True)
    ax.grid(True, which='major', color='#e6e6e6', lw=0.6)
    ax.grid(True, which='minor', color='#f3f3f3', lw=0.45)
    ax.set_axisbelow(True)
    for s in ax.spines.values():
        s.set_color('#9a9a9a'); s.set_linewidth(0.8)
    ax.tick_params(which='major', direction='out', length=2.5, width=0.6, color='#555555',
                   labelcolor=TXT, pad=2)
    ax.tick_params(which='minor', length=0)
    ax.tick_params(axis='x', labelsize=9.3)

def km_panel(box, xlim, strata, cols, styles, medians, cens):
    ax = add_ax(box)
    yt = [round(v * 0.1, 1) for v in range(11)]
    ax.set_yticks(yt, [f'{v:.1f}' for v in yt])
    ax.set_yticks([0.05 + 0.1 * k for k in range(10)], minor=True)
    km_grid(ax, xlim, (-0.051, 1.04))
    ax.tick_params(axis='y', labelsize=7.8)
    for (t, s, lo, hi), c, ls, ct in zip(strata, cols, styles, cens):
        ax.fill_between(t, lo, hi, step='post', color=c, alpha=0.3, lw=0)
        sns.lineplot(x=t, y=s, ax=ax, color=c, lw=1.1, ls=ls, drawstyle='steps-post',
                     sort=False, estimator=None)
        ax.plot(ct, step_at(t, s, ct), ls='none', marker='+', color=c, ms=4.5, mew=0.8)
    ax.plot([0, max(medians)], [0.5, 0.5], color='#222222', ls=(0, (3, 2)), lw=0.8)
    for m in medians:
        ax.plot([m, m], [0, 0.5], color='#222222', ls=(0, (3, 2)), lw=0.8)
    return ax

boxG = (52, 836, 376, 1028)
boxH = (449, 836, 767, 1028)
axG = km_panel(boxG, (-5.1, 105.2),
               [(km_g_t02, km_g_s02, km_g_lo02, km_g_hi02), (km_g_t03, km_g_s03, km_g_lo03, km_g_hi03),
                (km_g_t04, km_g_s04, km_g_lo04, km_g_hi04), (km_g_t05, km_g_s05, km_g_lo05, km_g_hi05)],
               km_g_cols, km_g_ls, km_g_medians, [km_g_cens02, km_g_cens03, km_g_cens04, km_g_cens05])
axH = km_panel(boxH, (-5.43, 102.4),
               [(km_h_t0, km_h_s0, km_h_lo0, km_h_hi0), (km_h_t1, km_h_s1, km_h_lo1, km_h_hi1)],
               km_h_cols, km_h_ls, km_h_medians, [km_h_cens0, km_h_cens1])
set_labels(axG, boxG, xlabel='Time (months)', xpos=(217, 1053), ylabel='Survivial probability',
           ypos=(16.7, 936), lfs=7.9)
set_labels(axH, boxH, xlabel='Time (months)', xpos=(616, 1053), ylabel='Survivial probability',
           ypos=(415, 936.7), lfs=7.9)
axG.text(2, 0.2, 'p < 0.0001', fontsize=7.3, va='center', ha='left', color=TXT)
axH.text(1.7, 0.2, 'p = 0.00096', fontsize=7.3, va='center', ha='left', color=TXT)

g_med_lines = ['Rscore\u22640.2 (\u2265100 months)', 'Rscore\u22640.3 (47.9 months)',
               'Rscore\u22640.4 (12.8 months)', 'Rscore\u22640.5 (9.2 months)']
ftext(251, 842, 'Median RFS', fontsize=6.8, ha='right', va='center')
for yy, s in zip([842, 852, 862, 872.3], g_med_lines):
    ftext(260, yy, s, fontsize=6.8, ha='left', va='center')
for yy, s in zip([844, 855, 866], ['Median RFS', 'MVI=0 (69.2 months)', 'MVI=1 (40.5 months)']):
    ftext(662, yy, s, fontsize=8, ha='left', va='center')

# KM legends on top
def km_key(x, y, w, c):
    ov.add_patch(Rectangle((x, y - 7), w, 14, fc=c, alpha=0.3, ec='none'))
    ov.plot([x + 1, x + w - 1], [y, y], color=c, lw=1.1, solid_capstyle='butt')
    ov.plot([x + w / 2], [y], ls='none', marker='+', color=c, ms=6, mew=1.0)

ftext(45, 823, 'Strata', fontsize=7.9, ha='left', va='center')
for kx, tx, lab, c in zip([77, 153, 230, 307], [95, 172, 248, 325], km_g_labels, km_g_cols):
    km_key(kx, 823, 16, c)
    ftext(tx, 823, lab, fontsize=7.9, ha='left', va='center')
ftext(527, 823, 'Strata', fontsize=7.9, ha='left', va='center')
for kx, tx, lab, c in zip([567, 638], [595, 663], km_h_labels, km_h_cols):
    km_key(kx, 823, 19, c)
    ftext(tx, 823, lab, fontsize=7.9, ha='left', va='center')

# ------------------------------------------------------------------ Risk tables
def risk_panel(box, xlim, ylim, counts, cols, labels, lab_fs):
    ax = add_ax(box)
    n = len(counts)
    ax.set_yticks(list(range(1, n + 1)), labels)
    km_grid(ax, xlim, ylim)
    ax.tick_params(axis='y', labelsize=lab_fs, pad=1)
    for lab, c in zip(ax.get_yticklabels(), cols):
        lab.set_color(c)
    for row, (vals, c) in enumerate(zip(counts, cols), start=1):
        for t, v in zip(risk_times, vals):
            ax.text(t, row, str(v), ha='center', va='center', color=c, fontsize=7.3)
    return ax

boxGr = (52, 1071, 376, 1111)
boxHr = (449, 1071, 767, 1111)
axGr = risk_panel(boxGr, (-5.1, 105.2), (4.61, 0.52), risk_g, km_g_cols, km_g_labels, 5)
axHr = risk_panel(boxHr, (-5.43, 102.4), (2.6, 0.415), risk_h, km_h_cols, km_h_labels, 7.8)
set_labels(axGr, boxGr, xlabel='Time (months)', xpos=(217, 1134), ylabel='Strata', ypos=(7.5, 1091), lfs=7.9)
set_labels(axHr, boxHr, xlabel='Time (months)', xpos=(616, 1134), ylabel='Strata', ypos=(405, 1091), lfs=7.9)
ftext(53, 1062, 'Number at risk', fontsize=8, ha='left', va='center')
ftext(451.7, 1062, 'Number at risk', fontsize=8, ha='left', va='center')

# ------------------------------------------------------------------ panel letters
for L, x, y in [('A', 2, 12.5), ('B', 391.7, 12.5), ('C', 3, 299), ('D', 397, 303.5),
                ('E', 1.7, 570.8), ('F', 394, 570.8), ('G', 3, 820), ('H', 393, 819.5)]:
    ftext(x, y, L, fontsize=15.5, fontweight='bold', ha='left', va='center', color='#000000')

fig.savefig('out.png', dpi=100, facecolor='white')
